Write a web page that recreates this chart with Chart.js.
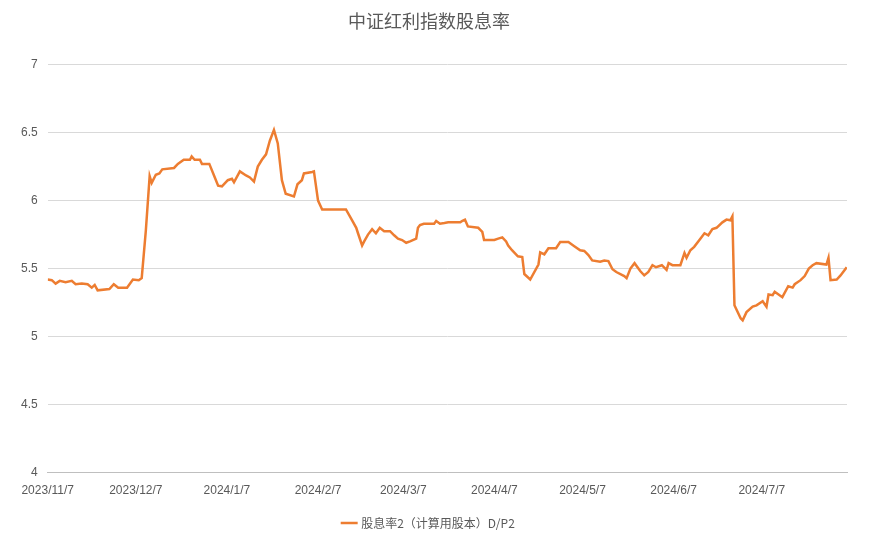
<!DOCTYPE html>
<html><head><meta charset="utf-8">
<script src="https://cdn.jsdelivr.net/npm/chart.js@4/dist/chart.umd.min.js"></script>
<style>html,body{margin:0;background:#fff}#w{width:879px;height:543px}</style></head>
<body><div id="w"><canvas id="c"></canvas></div>
<script>
const dayOffsets=[0,1.4,2.7,4.1,6.1,8.2,9.5,11.6,13.6,15,16,17,21,22.5,24,27,29,31,32,33.4,34.7,35.4,36.8,38,39,43,44.3,46.3,48.4,49,50,51.8,52.5,55,56.6,58,59.3,61.3,62.7,63.4,65.4,67.5,68.8,70.2,71.5,72.9,74.3,75.6,77,78.3,79.7,81,83.8,85,86.5,87.2,90,90.6,92,93.4,101.5,103.6,105,105.6,107,107.7,109,110.4,111.7,113,114.5,116.5,117.9,119.2,120.6,122,123.3,125.4,126,126.7,128,131.5,132.2,133.5,135,136.3,140.4,141,142,143,146.5,147.9,148.5,152,153.3,154.7,156,156.7,158,160,161.5,162.2,164.2,167,167.6,169,170.4,173,174.4,177.2,179.2,181.2,182.6,184,185.3,188,189.4,190.8,192.2,193.5,196.2,197,198.3,199.7,201.7,203,204.4,205.8,207,209,210.6,211.3,212.6,215.3,216.7,217.4,218.7,220,222.1,223.5,224.8,226.2,227.6,229.6,231,232.3,233,233.7,235.8,236.5,237.8,239.9,241.2,243.3,244.6,245.3,246.7,247.4,250,252,253.5,254.2,256.2,257.6,259,260.3,261.6,265,265.7,266.4,268.5,269.8,271.9];
const yieldValues=[5.42,5.415,5.39,5.41,5.40,5.41,5.385,5.39,5.385,5.36,5.38,5.34,5.35,5.385,5.36,5.36,5.42,5.415,5.43,5.78,6.18,6.13,6.19,6.20,6.23,6.24,6.27,6.30,6.30,6.325,6.30,6.30,6.27,6.27,6.185,6.11,6.105,6.15,6.16,6.135,6.215,6.185,6.17,6.14,6.25,6.30,6.34,6.44,6.52,6.42,6.15,6.05,6.03,6.12,6.15,6.20,6.21,6.215,6.0,5.935,5.935,5.855,5.80,5.76,5.67,5.70,5.75,5.79,5.76,5.80,5.775,5.775,5.745,5.72,5.71,5.69,5.70,5.72,5.80,5.82,5.83,5.83,5.85,5.83,5.835,5.84,5.84,5.85,5.86,5.81,5.80,5.77,5.71,5.71,5.72,5.73,5.70,5.67,5.635,5.59,5.585,5.46,5.42,5.53,5.62,5.605,5.65,5.65,5.695,5.695,5.665,5.635,5.63,5.60,5.56,5.55,5.56,5.555,5.495,5.475,5.445,5.43,5.50,5.54,5.48,5.45,5.475,5.525,5.51,5.525,5.49,5.54,5.525,5.525,5.615,5.58,5.635,5.66,5.72,5.76,5.745,5.79,5.80,5.84,5.86,5.855,5.885,5.23,5.135,5.12,5.18,5.22,5.23,5.26,5.22,5.31,5.305,5.33,5.29,5.37,5.36,5.385,5.415,5.445,5.50,5.525,5.54,5.53,5.58,5.415,5.42,5.45,5.51];
const tickDays=[0,30,61,92,121,152,182,213,243];
const tickLabels=['2023/11/7','2023/12/7','2024/1/7','2024/2/7','2024/3/7','2024/4/7','2024/5/7','2024/6/7','2024/7/7'];
const pts=dayOffsets.map((d,i)=>({x:d,y:yieldValues[i]}));
new Chart(document.getElementById('c'),{type:'line',
data:{datasets:[{label:'股息率2（计算用股本）D/P2',data:pts,borderColor:'#ED7D31',backgroundColor:'#ED7D31',borderWidth:2.5,pointRadius:0,tension:0}]},
options:{responsive:true,maintainAspectRatio:false,animation:false,
layout:{padding:{left:11,right:32,top:6,bottom:4}},
plugins:{title:{display:true,text:'中证红利指数股息率',color:'#595959',font:{size:18,family:'Noto Sans CJK SC',weight:'normal'},padding:{top:4,bottom:33}},
legend:{position:'bottom',labels:{usePointStyle:true,pointStyle:'line',boxWidth:30,color:'#595959',font:{size:12,family:'Noto Sans CJK SC'},padding:16}}},
scales:{x:{type:'linear',min:0,max:272,afterBuildTicks:a=>{a.ticks=tickDays.map(v=>({value:v}))},
ticks:{autoSkip:false,maxRotation:0,color:'#595959',font:{size:12},callback:v=>{const i=tickDays.indexOf(v);return i>=0?tickLabels[i]:''}},
grid:{display:false},border:{color:'#bfbfbf'}},
y:{min:4,max:7,ticks:{stepSize:0.5,color:'#595959',font:{size:12},padding:10,callback:v=>String(v)},grid:{color:'#d9d9d9',drawTicks:false},border:{display:false}}}}});
</script></body></html>
